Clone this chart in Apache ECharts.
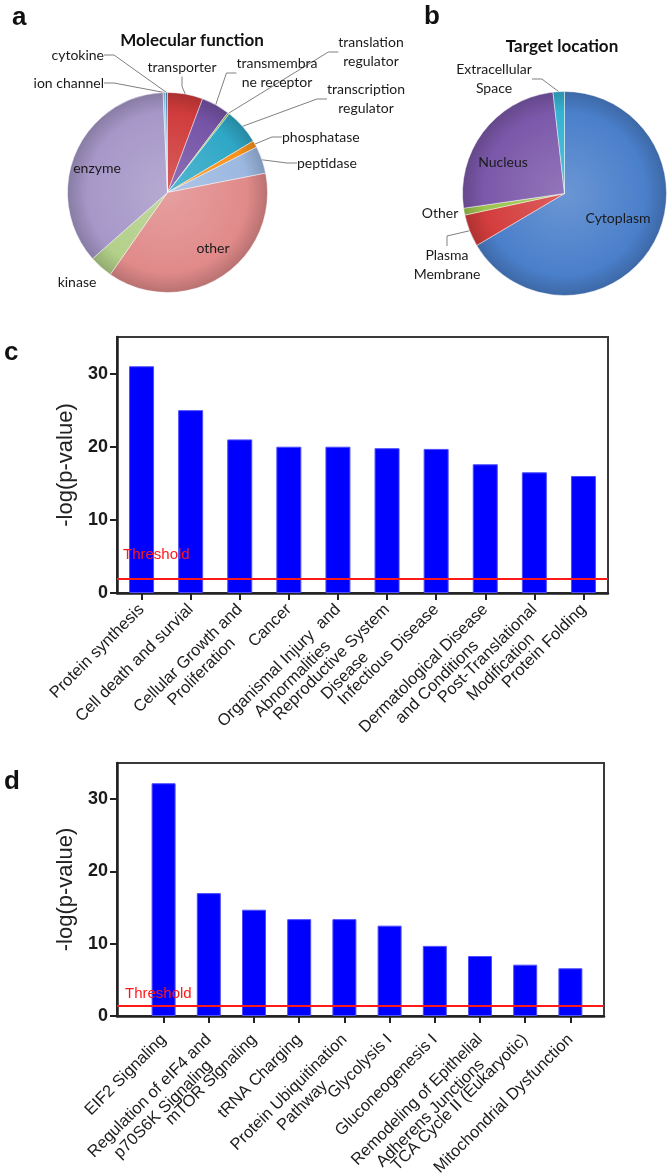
<!DOCTYPE html>
<html>
<head>
<meta charset="utf-8">
<script src="https://cdn.jsdelivr.net/npm/echarts@6/dist/echarts.min.js"></script>
<style>
  html, body { margin: 0; padding: 0; background: #fff; }
  #chart { width: 672px; height: 1176px; }
</style>
</head>
<body>
<div id="chart"></div>
<script>
// a: molecular function (share of proteins, %)
const funcNames = ['transporter', 'transmembra\nne receptor', 'translation\nregulator', 'transcription\nregulator',
  'phosphatase', 'peptidase', 'other', 'kinase', 'enzyme', 'ion channel', 'cytokine'];
const funcValues = [5.7, 4.6, 0.3, 5.8, 1.1, 4.4, 37.8, 3.8, 35.8, 0.4, 0.3];
const funcColors = ['#d03c3c', '#7553a6', '#9bbb59', '#2fa7c6', '#f7931e', '#9cb8e0',
  '#e18a8a', '#b3d08a', '#a697c8', '#8fd0e0', '#4f81bd'];

// b: target location (%)
const locNames = ['Cytoplasm', 'Plasma\nMembrane', 'Other', 'Nucleus', 'Extracellular\nSpace'];
const locValues = [66.5, 5.1, 1.1, 25.5, 1.8];
const locColors = ['#4a7fca', '#d43d3d', '#9cc44e', '#7b58aa', '#35b2d2'];

// c: diseases and functions, -log(p-value)
const diseaseNames = ['Protein synthesis', 'Cell death and survial', 'Cellular Growth and\nProliferation', 'Cancer',
  'Organismal Injury  and\nAbnormalities', 'Reproductive System\nDisease', 'Infectious Disease',
  'Dermatological Disease\nand Conditions', 'Post-Translational\nModification', 'Protein Folding'];
const diseaseValues = [31, 25, 21, 20, 20, 19.8, 19.7, 17.6, 16.5, 16];
const diseaseThreshold = 1.9;

// d: canonical pathways, -log(p-value)
const pathwayNames = ['EIF2 Signaling', 'Regulation of eIF4 and\np70S6K Signaling', 'mTOR Signaling', 'tRNA Charging',
  'Protein Ubiquitination\nPathway', 'Glycolysis I', 'Gluconeogenesis I',
  'Remodeling of Epithelial\nAdherens Junctions', 'TCA Cycle II (Eukaryotic)', 'Mitochondrial Dysfunction'];
const pathwayValues = [32.2, 17, 14.7, 13.4, 13.4, 12.5, 9.7, 8.3, 7.1, 6.6];
const pathwayThreshold = 1.35;

const yTicks = [0, 10, 20, 30];
const yMax = 35;

// label placement for the pies (x, y, align), same order as the names
const funcLabelPos = [[182, 67, 'center'], [277, 73, 'center'], [371, 52, 'center'], [366, 99, 'center'],
  [282, 137, 'left'], [297, 163, 'left'], [213, 248, 'center'], [77, 282, 'center'], [97, 168, 'center'],
  [104, 83, 'right'], [104, 55, 'right']];
const funcNoLine = ['other', 'kinase', 'enzyme'];
const locLabelPos = [[618, 218, 'center'], [447, 265, 'center'], [440, 213, 'center'], [503, 162, 'center'], [494, 79, 'center']];
const locNoLine = ['Cytoplasm', 'Other', 'Nucleus'];

const pieFont = 'Lato, "Open Sans", sans-serif';
const axisFont = '"Liberation Sans", Arial, sans-serif';

function mix(hex, target, t) {
  const n = parseInt(hex.slice(1), 16);
  const c = [(n >> 16) & 255, (n >> 8) & 255, n & 255];
  return 'rgb(' + c.map(v => Math.round(v + (target - v) * t)).join(',') + ')';
}

function shaded(base, cx, cy, r) {
  return {
    type: 'radial', x: cx, y: cy, r: r, global: true,
    colorStops: [
      { offset: 0, color: mix(base, 255, 0.18) },
      { offset: 0.8, color: base },
      { offset: 1, color: mix(base, 0, 0.18) }
    ]
  };
}

function pieData(names, values, colors, noLine, cx, cy, r) {
  return names.map((n, i) => ({
    name: n,
    value: values[i],
    itemStyle: { color: shaded(colors[i], cx, cy, r) },
    labelLine: { show: !noLine.includes(n) }
  }));
}

function pieSeries(names, values, colors, noLine, pos, cx, cy, r) {
  return {
    type: 'pie',
    center: [cx, cy],
    radius: r,
    startAngle: 90,
    clockwise: true,
    avoidLabelOverlap: false,
    silent: true,
    data: pieData(names, values, colors, noLine, cx, cy, r),
    itemStyle: { borderColor: 'rgba(255,255,255,0.55)', borderWidth: 0.8 },
    label: { show: true, formatter: '{b}', fontFamily: pieFont, fontSize: 14, color: '#1a1a1a', lineHeight: 19 },
    labelLine: { show: true, length: 10, length2: 10, lineStyle: { color: '#808080', width: 1 } },
    labelLayout: function (p) {
      const q = pos[p.dataIndex];
      return { x: q[0], y: q[1], align: q[2], verticalAlign: 'middle' };
    }
  };
}

// multi-line tick labels: lines centred on each other, first line sitting on the tick
function wrapLabel(v) {
  const lines = v.split('\n');
  const body = lines.map(l => '{c|' + l + '}').join('\n');
  return lines.length > 1 ? '{c| }\n' + body : body;
}

const tickStyle = { color: '#222', width: 2 };

function frameAxes(gridIndex) {
  return {
    x: {
      gridIndex, type: 'value', min: 0, max: 1,
      axisLine: { show: true, lineStyle: { color: '#222', width: 2.5 } },
      axisTick: { show: false }, axisLabel: { show: false }, splitLine: { show: false }
    },
    y: {
      gridIndex, type: 'value', min: 0, max: yMax,
      axisLine: { show: true, lineStyle: { color: '#222', width: 2.5 } },
      axisTick: { show: true, length: 7, customValues: yTicks, lineStyle: tickStyle },
      axisLabel: {
        customValues: yTicks, margin: 9, fontSize: 18, fontWeight: 'bold', color: '#1a1a1a',
        fontFamily: '"Liberation Sans Narrow", "Liberation Sans", Arial, sans-serif'
      },
      splitLine: { show: false },
      name: '-log(p-value)', nameLocation: 'middle', nameGap: 37,
      nameTextStyle: { fontSize: 22, color: '#222', fontFamily: axisFont }
    }
  };
}

function barAxes(gridIndex, names, margin) {
  return {
    x: {
      gridIndex, type: 'category', data: names,
      axisLine: { show: false },
      axisTick: { show: true, alignWithLabel: true, length: 7, lineStyle: tickStyle },
      axisLabel: {
        interval: 0, rotate: 45, margin: margin, formatter: wrapLabel,
        rich: { c: { align: 'center', fontSize: 16.5, lineHeight: 19, color: '#1c1c1c', fontFamily: axisFont } }
      }
    },
    y: { gridIndex, type: 'value', min: 0, max: yMax, show: false }
  };
}

function thresholdSeries(axisIndex, value, dist) {
  return {
    type: 'line', xAxisIndex: axisIndex, yAxisIndex: axisIndex, data: [], silent: true,
    markLine: {
      silent: true, symbol: ['none', 'none'],
      data: [{ yAxis: value }],
      lineStyle: { color: '#ff1a1a', width: 2, type: 'solid' },
      label: {
        show: true, position: 'insideStartTop', formatter: 'Threshold', distance: dist,
        color: '#ff1a1a', fontSize: 15, fontFamily: axisFont
      }
    }
  };
}

function barSeries(axisIndex, values, width) {
  return {
    type: 'bar', xAxisIndex: axisIndex, yAxisIndex: axisIndex, data: values, barWidth: width, silent: true,
    itemStyle: { color: '#0000ff', borderColor: '#4d4dff', borderWidth: 1 }
  };
}

const frameC = frameAxes(0), barsC = barAxes(1, diseaseNames, 14);
const frameD = frameAxes(2), barsD = barAxes(3, pathwayNames, 21);

const frameGrid = { show: true, borderColor: '#3a3a3a', borderWidth: 2, backgroundColor: 'transparent' };

function letter(t, x, y) {
  return { type: 'text', x, y, style: { text: t, font: 'bold 26px "Liberation Sans", Arial', fill: '#111', textVerticalAlign: 'middle' } };
}
function pieTitle(t, x, y) {
  return { type: 'text', x, y, style: { text: t, font: 'bold 17px ' + pieFont, fill: '#111', textAlign: 'center', textVerticalAlign: 'middle' } };
}

const chart = echarts.init(document.getElementById('chart'));
chart.setOption({
  backgroundColor: '#fff',
  animation: false,
  grid: [
    Object.assign({ left: 117, right: 64, top: 337, height: 256, outerBoundsMode: 'none' }, frameGrid),
    { left: 117, right: 64, top: 337, height: 256, outerBoundsMode: 'none' },
    Object.assign({ left: 117, right: 68, top: 763, height: 253, outerBoundsMode: 'none' }, frameGrid),
    { left: 141, right: 79, top: 763, height: 253, outerBoundsMode: 'none' }
  ],
  xAxis: [frameC.x, barsC.x, frameD.x, barsD.x],
  yAxis: [frameC.y, barsC.y, frameD.y, barsD.y],
  graphic: [
    letter('a', 12, 18), letter('b', 424, 17), letter('c', 4, 353), letter('d', 4, 782),
    pieTitle('Molecular function', 192, 41), pieTitle('Target location', 562, 47)
  ],
  series: [
    pieSeries(funcNames, funcValues, funcColors, funcNoLine, funcLabelPos, 167.5, 192.5, 100),
    pieSeries(locNames, locValues, locColors, locNoLine, locLabelPos, 564.5, 193.5, 102),
    barSeries(1, diseaseValues, 25),
    thresholdSeries(0, diseaseThreshold, [6, 17]),
    barSeries(3, pathwayValues, 24),
    thresholdSeries(2, pathwayThreshold, [8, 5])
  ]
});
</script>
</body>
</html>
